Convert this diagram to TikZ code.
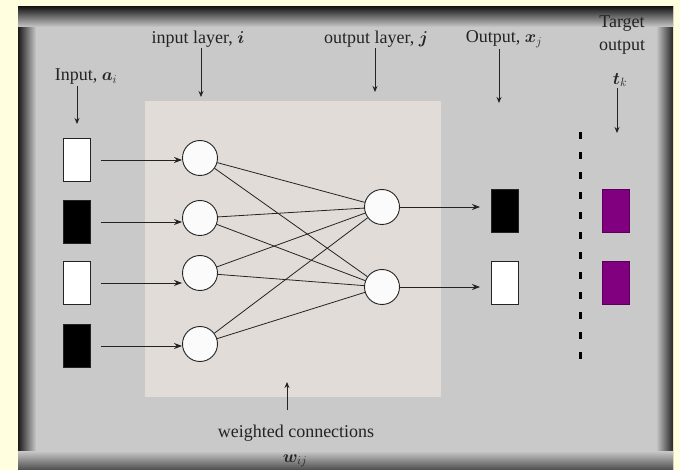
\documentclass[tikz,border=0pt]{standalone}
\usepackage{amsmath}
\usepackage{bm}
\usepackage{fontspec}
\setmainfont{Liberation Serif}
\usetikzlibrary{arrows.meta}
\definecolor{bgyellow}{RGB}{255,255,224}
\definecolor{panelgray}{RGB}{201,201,201}
\definecolor{lightpanel}{RGB}{226,220,216}
\definecolor{targetpurple}{RGB}{128,0,128}
\definecolor{inkgray}{RGB}{35,35,35}
\begin{document}
\begin{tikzpicture}[x=1pt,y=-1pt,
  unit/.style={circle,draw=inkgray,line width=0.9pt,fill=white!97!gray,minimum size=35pt,inner sep=0pt},
  cell/.style={rectangle,draw=inkgray,line width=0.9pt,minimum width=27pt,minimum height=43pt,inner sep=0pt},
  whitecell/.style={cell,fill=white},
  blackcell/.style={cell,fill=black},
  purplecell/.style={cell,fill=targetpurple,draw=targetpurple!70!black},
  lbl/.style={font=\fontsize{18}{22}\selectfont,text=inkgray,inner sep=1pt},
  conn/.style={draw=inkgray,line width=0.8pt},
  feed/.style={draw=inkgray,line width=0.9pt,-{Stealth[length=8pt,width=6pt]}},
  pointer/.style={draw=inkgray,line width=0.9pt,-{Stealth[length=6pt,width=5pt]}}
]
\useasboundingbox (0,0) rectangle (680,470);
% background and panel
\fill[bgyellow] (0,0) rectangle (680,470);
\fill[panelgray] (18,7) rectangle (673,470);
\shade[left color=black!90, right color=panelgray] (18,7) rectangle (36,470);
\shade[left color=panelgray, right color=black!85] (656,7) rectangle (673,470);
\shade[top color=black!90, bottom color=panelgray] (18,7) rectangle (673,27);
\shade[top color=panelgray, bottom color=black!70] (18,451) rectangle (673,470);
\fill[lightpanel] (145,101) rectangle (441,397);

% input cells
\node[whitecell] (a1) at (77,160) {};
\node[blackcell] (a2) at (77,222) {};
\node[whitecell] (a3) at (77,283) {};
\node[blackcell] (a4) at (77,346) {};

% hidden (input layer) units
\node[unit] (h1) at (200,158) {};
\node[unit] (h2) at (200,218) {};
\node[unit] (h3) at (200,273) {};
\node[unit] (h4) at (200,344) {};

% output layer units
\node[unit] (o1) at (382,207) {};
\node[unit] (o2) at (382,287) {};

% output cells
\node[blackcell] (x1) at (505,211) {};
\node[whitecell] (x2) at (505,283) {};

% target cells
\node[purplecell] (t1) at (616,211) {};
\node[purplecell] (t2) at (616,283) {};

% dashed separator
\coordinate (d1) at (580,132);
\coordinate (d2) at (580,364);
\draw[black, line width=3pt, dash pattern=on 7pt off 13pt] (d1) -- (d2);

% feed arrows
\foreach \i in {1,2,3,4}{
  \path (a\i.east) ++(10,0) coordinate (s\i);
}
\draw[feed] (s1) -- (h1.west |- s1);
\draw[feed] (s2) -- (h2.west |- s2);
\draw[feed] (s3) -- (h3.west |- s3);
\draw[feed] (s4) -- (h4.west |- s4);
\draw[feed, shorten >=11pt] (o1) -- (o1 -| x1.west);
\draw[feed, shorten >=11pt] (o2) -- (o2 -| x2.west);

% weighted connections
\foreach \h in {h1,h2,h3,h4}{
  \foreach \o in {o1,o2}{
    \draw[conn] (\h) -- (\o);
  }
}

% labels
\node[lbl] (linput) at (86,77) {Input, $\bm{a}_i$};
\node[lbl] (lhidden) at (198,39) {input layer, $\bm{i}$};
\node[lbl] (loutlayer) at (376,39) {output layer, $\bm{j}$};
\node[lbl] (loutput) at (504,39) {Output, $\bm{x}_j$};
\node[lbl, align=center, font=\fontsize{18}{23}\selectfont] (ltarget) at (622,35) {Target\\output};
\node[lbl] (ltk) at (620,80) {$\bm{t}_k$};
\node[lbl] (lweighted) at (296,433) {weighted connections};
\node[lbl] (lwij) at (295,461) {$\bm{w}_{ij}$};

% label pointers
\coordinate (pin) at (77,124);
\coordinate (phid) at (201,97);
\coordinate (pout) at (375,92);
\coordinate (pox) at (499,103);
\coordinate (ptk) at (617,133);
\coordinate (pw) at (287,382);
\coordinate (pwstart) at (287,410);
\draw[pointer] (linput.south -| pin) -- (pin);
\draw[pointer] (lhidden.south -| phid) -- (phid);
\draw[pointer] (loutlayer.south -| pout) -- (pout);
\draw[pointer] (loutput.south -| pox) -- (pox);
\draw[pointer] (ltk.south -| ptk) -- (ptk);
\draw[pointer] (pwstart) -- (pw);
\end{tikzpicture}
\end{document}
